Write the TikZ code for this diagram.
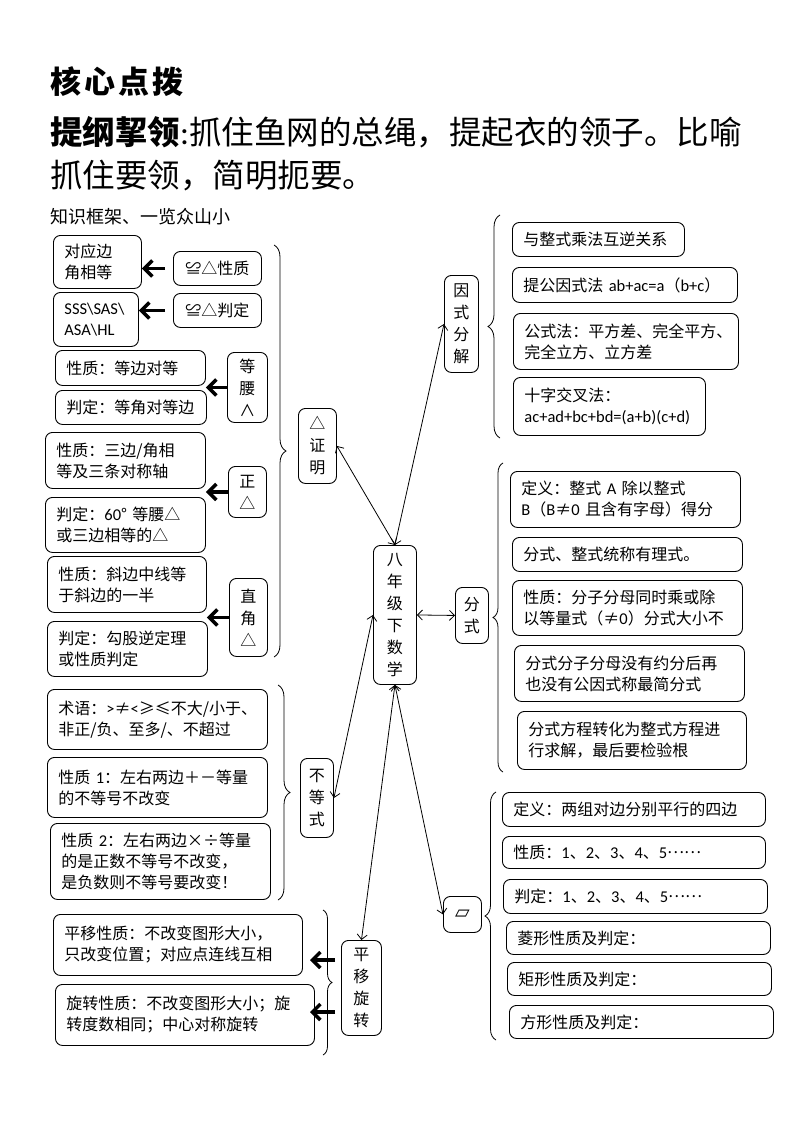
\documentclass[tikz,border=0pt]{standalone}
\usepackage{fontspec}
\setmainfont{Noto Sans CJK SC}
\newfontfamily\lat[Scale=1.03]{Carlito}
\newfontfamily\djv{DejaVu Sans}
\usetikzlibrary{arrows.meta,decorations.pathreplacing}
\newcommand{\mydots}{\raisebox{0.3em}{……}}
\begin{document}
\begin{tikzpicture}[x=1pt,y=-1pt,
 box/.style={draw, rounded corners=7pt, line width=0.9pt, anchor=north west, align=left, inner xsep=11pt, inner ysep=0pt, font=\fontsize{16}{21}\selectfont},
 vbox/.style={draw, rounded corners=7pt, line width=0.9pt, anchor=north west, align=center, inner xsep=0pt, inner ysep=0pt, font=\fontsize{16}{22}\selectfont},
 link/.style={line width=0.8pt, {Straight Barb[length=5pt,width=10pt]}-{Straight Barb[length=5pt,width=10pt]}},
 fat/.style={line width=3.5pt, -{Straight Barb[length=8pt,width=16pt]}},
 brc/.style={line width=0.8pt, decorate, decoration={brace, amplitude=#1}},
 ttl/.style={anchor=west, inner sep=0pt},
]
\fill[white] (0,0) rectangle (800,1134);
\useasboundingbox (0,0) rectangle (800,1134);

% headings
\node[ttl, font=\fontsize{31}{31}\selectfont\bfseries] (h1) at (50,82) {核\kern3pt心\kern3pt点\kern3pt拨};
\node[ttl, font=\fontsize{32.5}{32}\selectfont] (h2) at (50,132) {{\bfseries 提纲挈领}{\lat :}抓住鱼网的总绳，提起衣的领子。比喻};
\node[ttl, font=\fontsize{32.5}{32}\selectfont] (h3) at (50,176) {抓住要领，简明扼要。};
\node[ttl, font=\fontsize{18}{18}\selectfont] (h4) at (50,217) {知识框架、一览众山小};

% triangle proofs
\node[box, minimum width=88, text width=66, minimum height=53] (dy) at (53,235) {对应边\\角相等};
\node[vbox, minimum width=88, minimum height=34] (xz) at (173,251) {≌△性质};
\node[box, minimum width=85, text width=63, minimum height=54] (sss) at (53,292) {{\lat SSS\textbackslash SAS\textbackslash}\\{\lat ASA\textbackslash HL}};
\node[vbox, minimum width=88, minimum height=34] (pd) at (173,293) {≌△判定};
\node[box, minimum width=150, text width=128, minimum height=35] (i5) at (55,350) {性质：等边对等};
\node[box, minimum width=151, text width=129, minimum height=34] (i6) at (55,390) {判定：等角对等边};
\node[vbox, minimum width=40, minimum height=70] (dyao) at (227,352) {等\\腰\\∧};
\node[box, minimum width=160, text width=138, minimum height=56] (i8) at (45,432) {性质：三边/角相\\等及三条对称轴};
\node[box, minimum width=160, text width=138, minimum height=55] (i9) at (45,497) {判定：{\lat 60}°~等腰△\\或三边相等的△};
\node[vbox, minimum width=38, minimum height=51] (zheng) at (228,466) {正\\△};
\node[box, minimum width=159, text width=137, minimum height=56] (i11) at (47,556) {性质：斜边中线等\\于斜边的一半};
\node[box, minimum width=160, text width=138, minimum height=55] (i12) at (47,621) {判定：勾股逆定理\\或性质判定};
\node[vbox, minimum width=38, minimum height=78] (zj) at (229,578) {直\\角\\△};
\node[vbox, minimum width=38, minimum height=75] (zm) at (298,408) {△\\证\\明};

% centre
\node[vbox, minimum width=43, minimum height=139] (bn) at (373,545) {八\\年\\级\\下\\数\\学};

% factorisation
\node[vbox, minimum width=34, minimum height=97] (ys) at (444,275) {因\\式\\分\\解};
\node[box, minimum width=172, text width=150, minimum height=34] (y1) at (512,222) {与整式乘法互逆关系};
\node[box, minimum width=225, text width=203, minimum height=35] (y2) at (512,267) {提公因式法~{\lat ab+ac=a}（{\lat b+c}）};
\node[box, minimum width=225, text width=203, minimum height=56] (y3) at (513,313) {公式法：平方差、完全平方、\\完全立方、立方差};
\node[box, minimum width=192, text width=170, minimum height=58] (y4) at (513,377) {十字交叉法：\\{\lat ac+ad+bc+bd=(a+b)(c+d)}};

% fractions
\node[vbox, minimum width=33, minimum height=56] (fs) at (455,587) {分\\式};
\node[box, minimum width=230, text width=208, minimum height=56] (f1) at (510,471) {定义：整式~{\lat A}~除以整式\\{\lat B}（{\lat B}≠{\lat 0}~且含有字母）得分};
\node[box, minimum width=230, text width=208, minimum height=34] (f2) at (512,537) {分式、整式统称有理式。};
\node[box, minimum width=230, text width=208, minimum height=55] (f3) at (512,580) {性质：分子分母同时乘或除\\以等量式（≠{\lat 0}）分式大小不};
\node[box, minimum width=230, text width=208, minimum height=56] (f4) at (514,645) {分式分子分母没有约分后再\\也没有公因式称最简分式};
\node[box, minimum width=229, text width=207, minimum height=58] (f5) at (517,711) {分式方程转化为整式方程进\\行求解，最后要检验根};

% inequalities
\node[vbox, minimum width=33, minimum height=79] (bd) at (300,758) {不\\等\\式};
\node[box, minimum width=220, text width=198, minimum height=60] (b1) at (47,689) {术语：{\lat >}≠{\lat <}≥≤不大/小于、\\非正/负、至多/、不超过};
\node[box, minimum width=220, text width=198, minimum height=60] (b2) at (47,757) {性质~{\lat 1}：左右两边＋－等量\\的不等号不改变};
\node[box, minimum width=220, text width=198, minimum height=76] (b3) at (50,823) {性质~{\lat 2}：左右两边×÷等量\\的是正数不等号不改变，\\是负数则不等号要改变！};

% translation / rotation
\node[vbox, minimum width=40, minimum height=95] (py) at (341,940) {平\\移\\旋\\转};
\node[box, minimum width=249, text width=227, minimum height=61] (p1) at (53,914) {平移性质：不改变图形大小，\\只改变位置；对应点连线互相};
\node[box, minimum width=259, text width=237, minimum height=61] (p2) at (55,984) {旋转性质：不改变图形大小；旋\\转度数相同；中心对称旋转};

% parallelograms
\node[vbox, minimum width=38, minimum height=36] (px) at (443,896) {{\djv\fontsize{19}{19}\selectfont ▱}};
\node[box, minimum width=263, text width=241, minimum height=34] (q1) at (502,792) {定义：两组对边分别平行的四边};
\node[box, minimum width=263, text width=241, minimum height=32] (q2) at (502,836) {性质：{\lat 1}、{\lat 2}、{\lat 3}、{\lat 4}、{\lat 5}\mydots};
\node[box, minimum width=264, text width=242, minimum height=34] (q3) at (503,879) {判定：{\lat 1}、{\lat 2}、{\lat 3}、{\lat 4}、{\lat 5}\mydots};
\node[box, minimum width=264, text width=242, minimum height=33] (q4) at (506,921) {菱形性质及判定：};
\node[box, minimum width=264, text width=242, minimum height=33] (q5) at (507,962) {矩形性质及判定：};
\node[box, minimum width=264, text width=242, minimum height=33] (q6) at (509,1005) {方形性质及判定：};

% braces
\draw[brc=12] (274,245) -- (274,657);
\draw[brc=12] (500,438) -- (500,215);
\draw[brc=10] (503,772) -- (503,463);
\draw[brc=11] (496,1040) -- (496,792);
\draw[brc=12] (278,685) -- (278,900);
\draw[brc=9] (323,910) -- (323,1055);

% thick arrows
\draw[fat] ([xshift=-8pt]xz.west) -- (xz.west -| dy.east);
\draw[fat] ([xshift=-8pt]pd.west) -- (pd.west -| sss.east);
\draw[fat] (dyao.west) -- (dyao.west -| i5.east);
\draw[fat] (zheng.west) -- (zheng.west -| i8.east);
\draw[fat] (zj.west) -- (zj.west -| i11.east);
\coordinate (s1) at (335,960);
\coordinate (e1) at (310,960);
\coordinate (s2) at (335,1012);
\coordinate (e2) at (310,1012);
\draw[fat] (s1) -- (e1);
\draw[fat] (s2) -- (e2);

% links
\draw[link] (zm.east) -- (bn.north);
\draw[link] (bn.north) -- (ys.west);
\draw[link] (bn.east) -- (fs.west);
\draw[link] (bn.west) -- (bd.east);
\draw[link] (bn.south) -- (py.north);
\draw[link] (bn.south) -- (px.west);
\end{tikzpicture}
\end{document}
